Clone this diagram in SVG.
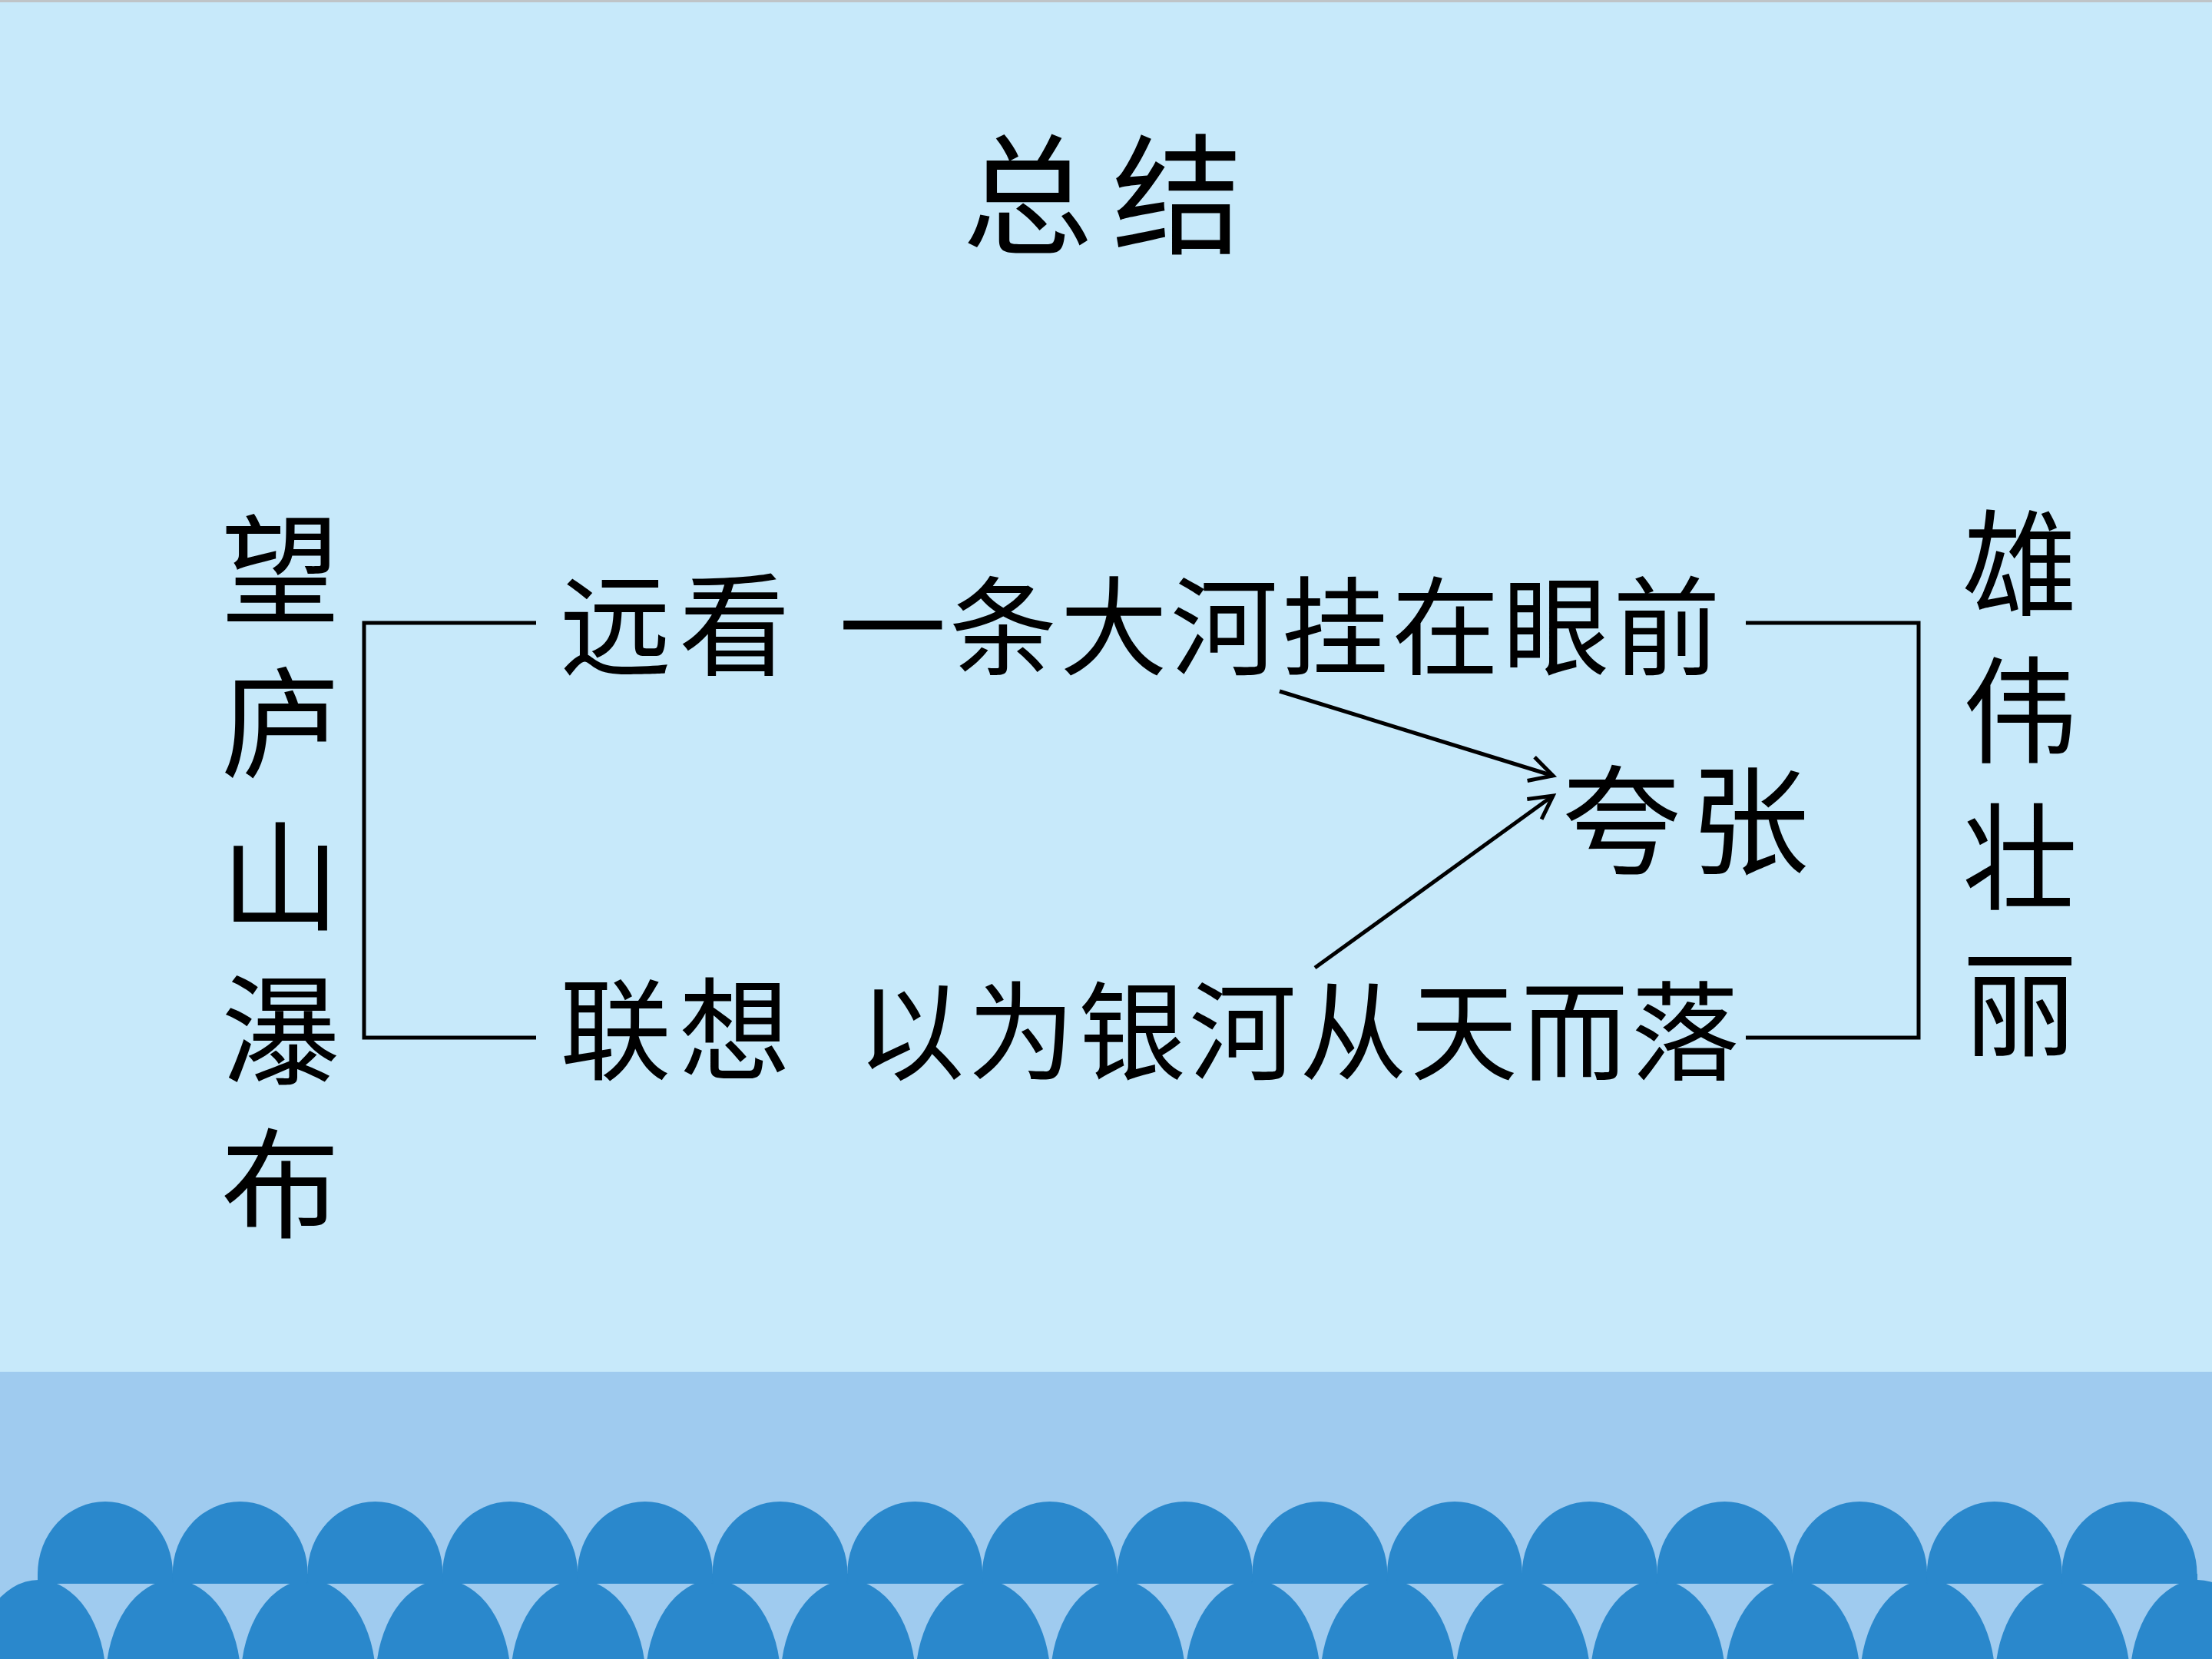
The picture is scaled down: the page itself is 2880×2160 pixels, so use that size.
<svg xmlns="http://www.w3.org/2000/svg" width="2880" height="2160" viewBox="0 0 2880 2160">
  <defs>
    <style>
      .t { font-family: "Noto Sans CJK SC", "Noto Sans CJK TC", sans-serif; fill: #000; }
      .row { font-size: 140px; letter-spacing: 4px; }
      .pair { font-size: 145px; letter-spacing: 10px; }
      .vl { font-size: 155px; writing-mode: vertical-rl; letter-spacing: 45px; }
      .vr { font-size: 150px; writing-mode: vertical-rl; letter-spacing: 41px; }
      .ttl { font-size: 170px; text-anchor: middle; }
      .big { font-size: 155px; text-anchor: middle; }
      .ln { fill: none; stroke: #000; stroke-width: 5; stroke-linejoin: miter; }
      .arr { fill: none; stroke: #000; stroke-width: 5; marker-end: url(#ah); }
      .dk { fill: #2A88CC; }
    </style>
    <marker id="ah" markerUnits="userSpaceOnUse" markerWidth="60" markerHeight="60" viewBox="-40 -30 60 60" refX="0" refY="0" orient="auto">
      <path d="M -30,-16 L 0,0 L -30,16" fill="none" stroke="#000" stroke-width="5"/>
    </marker>
    <clipPath id="topclip"><rect x="0" y="0" width="2880" height="2062"/></clipPath>
  </defs>

  <!-- background -->
  <rect x="0" y="0" width="2880" height="2160" fill="#C7E9FA"/>
  <rect x="0" y="0" width="2880" height="3" fill="#BFC4C7"/>
  <rect x="0" y="1786" width="2880" height="374" fill="#9FCBEF"/>

  <!-- waves -->
  <g id="waves-bottom" class="dk">
    <ellipse cx="50" cy="2188" rx="88" ry="131"/>
    <ellipse cx="225.7" cy="2188" rx="88" ry="131"/>
    <ellipse cx="401.4" cy="2188" rx="88" ry="131"/>
    <ellipse cx="577.1" cy="2188" rx="88" ry="131"/>
    <ellipse cx="752.8" cy="2188" rx="88" ry="131"/>
    <ellipse cx="928.5" cy="2188" rx="88" ry="131"/>
    <ellipse cx="1104.2" cy="2188" rx="88" ry="131"/>
    <ellipse cx="1279.9" cy="2188" rx="88" ry="131"/>
    <ellipse cx="1455.6" cy="2188" rx="88" ry="131"/>
    <ellipse cx="1631.3" cy="2188" rx="88" ry="131"/>
    <ellipse cx="1807" cy="2188" rx="88" ry="131"/>
    <ellipse cx="1982.7" cy="2188" rx="88" ry="131"/>
    <ellipse cx="2158.4" cy="2188" rx="88" ry="131"/>
    <ellipse cx="2334.1" cy="2188" rx="88" ry="131"/>
    <ellipse cx="2509.8" cy="2188" rx="88" ry="131"/>
    <ellipse cx="2685.5" cy="2188" rx="88" ry="131"/>
    <ellipse cx="2861.2" cy="2188" rx="88" ry="131"/>
  </g>
  <g id="waves-top" class="dk" clip-path="url(#topclip)">
    <rect x="49" y="2049" width="2812" height="13"/>
    <ellipse cx="137" cy="2049" rx="88" ry="94"/>
    <ellipse cx="312.7" cy="2049" rx="88" ry="94"/>
    <ellipse cx="488.4" cy="2049" rx="88" ry="94"/>
    <ellipse cx="664.1" cy="2049" rx="88" ry="94"/>
    <ellipse cx="839.8" cy="2049" rx="88" ry="94"/>
    <ellipse cx="1015.5" cy="2049" rx="88" ry="94"/>
    <ellipse cx="1191.2" cy="2049" rx="88" ry="94"/>
    <ellipse cx="1366.9" cy="2049" rx="88" ry="94"/>
    <ellipse cx="1542.6" cy="2049" rx="88" ry="94"/>
    <ellipse cx="1718.3" cy="2049" rx="88" ry="94"/>
    <ellipse cx="1894" cy="2049" rx="88" ry="94"/>
    <ellipse cx="2069.7" cy="2049" rx="88" ry="94"/>
    <ellipse cx="2245.4" cy="2049" rx="88" ry="94"/>
    <ellipse cx="2421.1" cy="2049" rx="88" ry="94"/>
    <ellipse cx="2596.8" cy="2049" rx="88" ry="94"/>
    <ellipse cx="2772.5" cy="2049" rx="88" ry="94"/>
  </g>

  <!-- title -->
  <g id="title">
    <text class="t ttl" x="1338" y="318">总</text>
    <text class="t ttl" x="1533" y="318">结</text>
  </g>

  <!-- left vertical node -->
  <g id="node-left">
    <text class="t vl" x="365" y="663">望庐山瀑布</text>
  </g>

  <!-- right vertical node -->
  <g id="node-right">
    <text class="t vr" x="2630" y="658">雄伟壮丽</text>
  </g>

  <!-- row 1 -->
  <g id="node-row1">
    <text class="t pair" x="729" y="868">远看</text>
    <text class="t row" x="1092" y="868">一条大河挂在眼前</text>
  </g>

  <!-- row 2 -->
  <g id="node-row2">
    <text class="t pair" x="729" y="1395">联想</text>
    <text class="t row" x="1116" y="1395">以为银河从天而落</text>
  </g>

  <!-- exaggeration -->
  <g id="node-kuazhang">
    <text class="t big" x="2111" y="1126">夸</text>
    <text class="t big" x="2278" y="1126">张</text>
  </g>

  <!-- connectors -->
  <g id="connectors">
    <polyline class="ln" points="698,811 474,811 474,1351 698,1351"/>
    <polyline class="ln" points="2273,811 2498,811 2498,1351 2273,1351"/>
    <line class="arr" x1="1666" y1="900" x2="2022" y2="1010"/>
    <line class="arr" x1="1712" y1="1260" x2="2022" y2="1036"/>
  </g>
</svg>
